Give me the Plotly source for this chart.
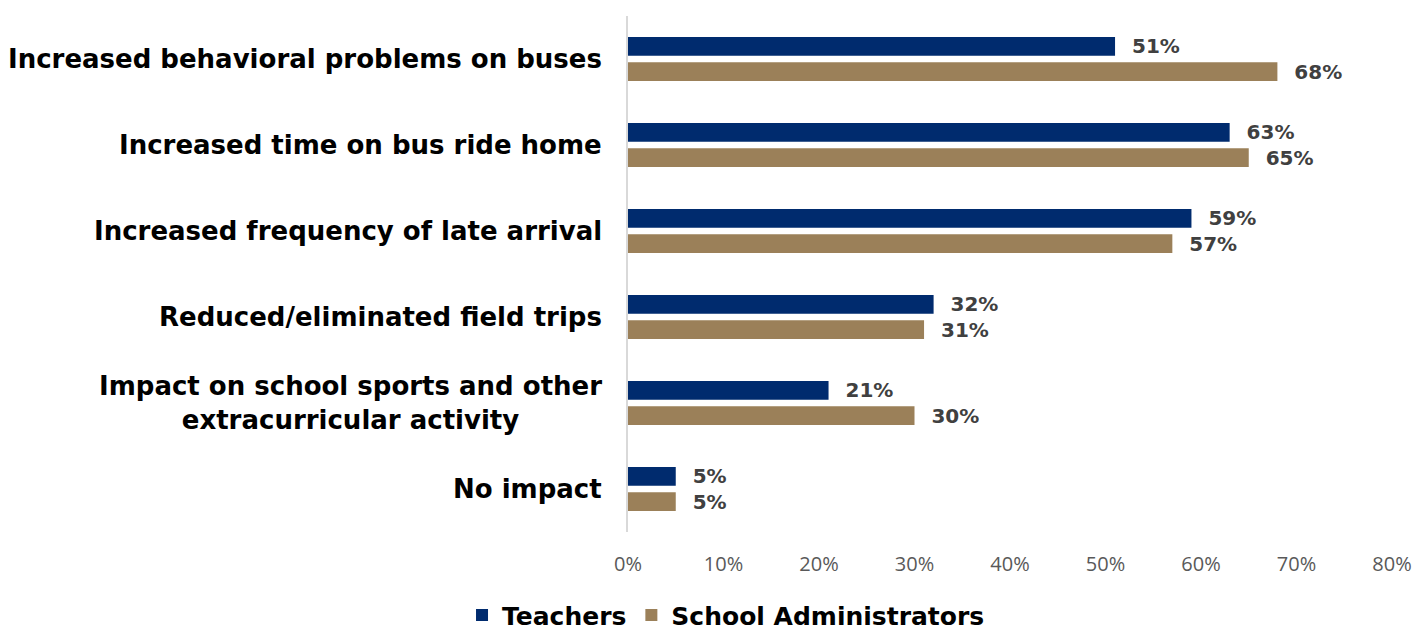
import plotly.graph_objects as go

categories = [
    "Increased behavioral problems on buses",
    "Increased time on bus ride home",
    "Increased frequency of late arrival",
    "Reduced/eliminated field trips",
    "Impact on school sports and other<br>extracurricular activity",
    "No impact",
]
teachers = [51, 63, 59, 32, 21, 5]
administrators = [68, 65, 57, 31, 30, 5]
x_ticks = [0, 10, 20, 30, 40, 50, 60, 70, 80]
x_tick_labels = [f"{v}%" for v in x_ticks]

NAVY = "#002B6E"
TAN = "#9B8059"
BOLD_FONT = "DejaVu Sans"

fig = go.Figure()
for name, vals, color in [("Teachers", teachers, NAVY), ("School Administrators", administrators, TAN)]:
    fig.add_trace(go.Bar(
        y=categories, x=vals, name=name, orientation="h",
        marker=dict(color=color, line=dict(width=0)),
        text=[f"\u00a0\u00a0{v}%" for v in vals],
        textposition="outside",
        constraintext="none",
        textfont=dict(family=BOLD_FONT, size=20, color="#404040", weight=700),
        cliponaxis=False,
    ))

# category labels, centered per line and right-aligned to the axis
for cat in categories:
    fig.add_annotation(
        x=0, xref="paper", y=cat, yref="y",
        text=cat, showarrow=False, xanchor="right", align="center",
        xshift=-24,
        font=dict(family=BOLD_FONT, size=26, color="#000000", weight=700),
    )

fig.update_layout(
    width=1418, height=633,
    margin=dict(l=628, r=26, t=16, b=101, autoexpand=False),
    paper_bgcolor="white", plot_bgcolor="white",
    barmode="group", bargap=0.415, bargroupgap=0.25,
    showlegend=True,
    legend=dict(
        orientation="h", xref="container", x=0.512, xanchor="center",
        yref="container", y=0.028, yanchor="middle",
        font=dict(family=BOLD_FONT, size=25, color="#000000", weight=700),
    ),
    xaxis=dict(
        range=[0, 80], tickvals=x_ticks, ticktext=x_tick_labels,
        showgrid=False, zeroline=False, showline=False,
        ticks="outside", ticklen=14, tickcolor="rgba(0,0,0,0)",
        tickfont=dict(family="Open Sans", size=20, color="#595959"),
    ),
    yaxis=dict(
        range=[5.5, -0.5], showticklabels=False,
        showline=True, linecolor="#D9D9D9", linewidth=2,
        showgrid=False, zeroline=False,
    ),
)

fig.write_html("out.html")
